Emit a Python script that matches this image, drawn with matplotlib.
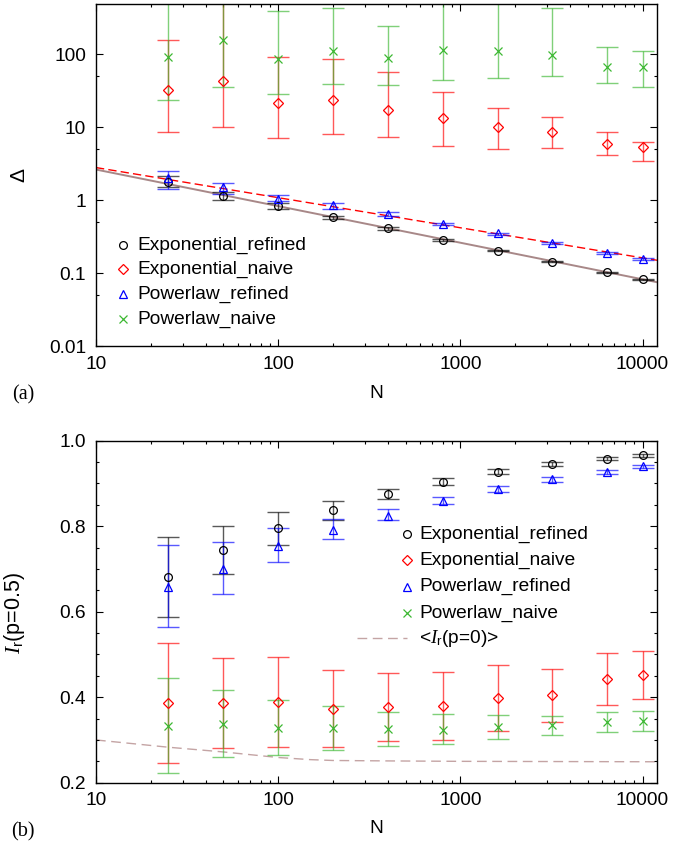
import matplotlib
matplotlib.use("Agg")
import matplotlib.pyplot as plt
import numpy as np
from matplotlib.ticker import FixedLocator, LogLocator, MultipleLocator, NullFormatter

plt.rcParams['font.family'] = ['Liberation Sans', 'DejaVu Sans']
plt.rcParams['font.size'] = 13.8
plt.rcParams['mathtext.fontset'] = 'custom'
plt.rcParams['mathtext.it'] = 'Liberation Serif:italic'
plt.rcParams['mathtext.rm'] = 'Liberation Sans'
plt.rcParams['axes.linewidth'] = 1.0

N = [25, 50, 100, 200, 400, 800, 1600, 3200, 6400, 10000]

# (a) Delta vs N
exp_ref = [1.80, 1.13, 0.82, 0.58, 0.41, 0.288, 0.204, 0.144, 0.102, 0.082]
exp_ref_lo = [1.50, 1.00, 0.76, 0.555, 0.395, 0.278, 0.198, 0.140, 0.099, 0.080]
exp_ref_hi = [2.15, 1.30, 0.90, 0.61, 0.425, 0.298, 0.210, 0.148, 0.105, 0.084]

exp_naive = [32.5, 43, 21.4, 23.5, 17.3, 13.5, 10.0, 8.6, 5.9, 5.4]
exp_naive_lo = [8.6, 10.0, 7.2, 8.0, 7.4, 5.6, 5.1, 5.2, 4.2, 3.4]
exp_naive_hi = [156, 700, 91, 85, 57, 30, 18.3, 13.8, 8.5, 6.3]

pow_ref = [2.0, 1.5, 1.04, 0.86, 0.65, 0.47, 0.35, 0.26, 0.19, 0.158]
pow_ref_lo = [1.42, 1.20, 0.97, 0.75, 0.61, 0.45, 0.335, 0.25, 0.183, 0.153]
pow_ref_hi = [2.55, 1.73, 1.17, 0.91, 0.68, 0.49, 0.36, 0.268, 0.196, 0.162]

pow_naive = [91, 158, 86, 112, 88, 116, 112, 97, 67, 67]
pow_naive_lo = [23.5, 36, 28.6, 39, 38, 45, 47, 50, 40, 36]
pow_naive_hi = [800, 800, 395, 435, 245, 800, 800, 425, 126, 112]

# power-law fits, given by their end points
fit_N = [10, 12000]
fit_exp = [2.63, 0.075]
fit_pow = [2.80, 0.150]

# (b) I_r(p=0.5) vs N
expb = [0.682, 0.745, 0.796, 0.837, 0.876, 0.904, 0.927, 0.945, 0.958, 0.966]
expb_lo = [0.587, 0.689, 0.757, 0.815, 0.864, 0.896, 0.921, 0.940, 0.954, 0.962]
expb_hi = [0.774, 0.800, 0.834, 0.858, 0.886, 0.913, 0.933, 0.949, 0.962, 0.970]

expb_naive = [0.386, 0.386, 0.388, 0.372, 0.377, 0.379, 0.399, 0.404, 0.442, 0.451]
expb_naive_lo = [0.246, 0.281, 0.283, 0.283, 0.297, 0.301, 0.322, 0.341, 0.382, 0.395]
expb_naive_hi = [0.526, 0.492, 0.493, 0.463, 0.456, 0.458, 0.475, 0.467, 0.503, 0.508]

powb = [0.658, 0.699, 0.754, 0.791, 0.825, 0.860, 0.887, 0.910, 0.927, 0.940]
powb_lo = [0.565, 0.641, 0.716, 0.769, 0.814, 0.851, 0.881, 0.903, 0.922, 0.937]
powb_hi = [0.757, 0.763, 0.796, 0.816, 0.841, 0.869, 0.895, 0.914, 0.931, 0.943]

powb_naive = [0.333, 0.338, 0.329, 0.328, 0.326, 0.323, 0.331, 0.334, 0.342, 0.344]
powb_naive_lo = [0.222, 0.261, 0.264, 0.276, 0.285, 0.290, 0.302, 0.312, 0.319, 0.321]
powb_naive_hi = [0.444, 0.416, 0.393, 0.379, 0.365, 0.361, 0.358, 0.356, 0.365, 0.367]

N_p0 = [10, 25, 50, 100, 150, 200, 400, 1000, 12000]
I_p0 = [0.300, 0.283, 0.272, 0.259, 0.254, 0.252, 0.251, 0.250, 0.249]

labels = ['Exponential_refined', 'Exponential_naive', 'Powerlaw_refined', 'Powerlaw_naive']
colors = ['black', '#ff0000', '#0000ff', '#3cb832']
markers = ['o', 'D', '^', 'x']
msizes = [5.6, 5.0, 6.2, 5.2]


def draw_series(ax, y, lo, hi, k):
    y = np.asarray(y)
    err = [y - np.asarray(lo), np.asarray(hi) - y]
    ax.errorbar(N, y, yerr=err, fmt='none', ecolor=colors[k], elinewidth=1.0,
                capsize=8, capthick=1.0, alpha=0.65, zorder=2)
    ax.plot(N, y, linestyle='none', marker=markers[k], ms=msizes[k],
            mfc='none', mec=colors[k], mew=0.9, zorder=3)


def style_axes(ax):
    ax.set_xscale('log')
    ax.set_xlim(10, 12000)
    ax.xaxis.set_major_locator(FixedLocator([10, 100, 1000, 10000]))
    ax.xaxis.set_major_formatter(plt.FuncFormatter(lambda v, p: '%d' % v))
    ax.xaxis.set_minor_locator(LogLocator(base=10, subs=np.arange(2, 10)))
    ax.xaxis.set_minor_formatter(NullFormatter())
    ax.tick_params(which='both', direction='in', top=True, right=True, width=0.8)
    ax.tick_params(which='major', length=5, pad=7)
    ax.tick_params(which='minor', length=2.5)


def legend_rows(ax, xm, xt, ys):
    for k, yy in enumerate(ys):
        ax.plot([xm], [yy], transform=ax.transAxes, linestyle='none',
                marker=markers[k], ms=msizes[k], mfc='none', mec=colors[k],
                mew=0.9, clip_on=False)
        ax.text(xt, yy, labels[k], transform=ax.transAxes, va='center', ha='left')


fig = plt.figure(figsize=(6.73, 8.46), dpi=100)
ax1 = fig.add_axes([0.1426, 0.591, 0.8336, 0.4043])
ax2 = fig.add_axes([0.1426, 0.0748, 0.8336, 0.4043])

# panel (a)
ax1.plot(fit_N, fit_exp, color='#a88888', lw=1.4, zorder=1)
ax1.plot(fit_N, fit_pow, color='#ff0000', lw=1.0, dashes=(6, 3), zorder=1)
draw_series(ax1, exp_ref, exp_ref_lo, exp_ref_hi, 0)
draw_series(ax1, exp_naive, exp_naive_lo, exp_naive_hi, 1)
draw_series(ax1, pow_ref, pow_ref_lo, pow_ref_hi, 2)
draw_series(ax1, pow_naive, pow_naive_lo, pow_naive_hi, 3)
style_axes(ax1)
ax1.set_yscale('log')
ax1.set_ylim(0.01, 490)
ax1.yaxis.set_major_locator(FixedLocator([0.01, 0.1, 1, 10, 100]))
ax1.yaxis.set_major_formatter(plt.FuncFormatter(lambda v, p: ('%g' % v)))
ax1.yaxis.set_minor_locator(LogLocator(base=10, subs=[5]))
ax1.yaxis.set_minor_formatter(NullFormatter())
ax1.set_ylabel('Δ', fontsize=15)
ax1.yaxis.set_label_coords(-0.121, 0.5)
ax1.set_xlabel('N')
ax1.xaxis.set_label_coords(0.5, -0.115)
legend_rows(ax1, 0.048, 0.0743, [0.295, 0.224, 0.151, 0.078])

# panel (b)
ax2.plot(N_p0, I_p0, color='#c4a4a4', lw=1.0, dashes=(7, 4), zorder=1)
draw_series(ax2, expb, expb_lo, expb_hi, 0)
draw_series(ax2, expb_naive, expb_naive_lo, expb_naive_hi, 1)
draw_series(ax2, powb, powb_lo, powb_hi, 2)
draw_series(ax2, powb_naive, powb_naive_lo, powb_naive_hi, 3)
style_axes(ax2)
ax2.set_ylim(0.2, 1.0)
ax2.yaxis.set_major_locator(MultipleLocator(0.2))
ax2.yaxis.set_major_formatter(plt.FuncFormatter(lambda v, p: '%.1f' % v))
ax2.yaxis.set_minor_locator(MultipleLocator(0.05))
ax2.set_ylabel(r'$I_{\mathrm{r}}$(p=0.5)', fontsize=15.5)
ax2.yaxis.set_label_coords(-0.1235, 0.496)
ax2.set_xlabel('N')
ax2.xaxis.set_label_coords(0.5, -0.11)
legend_rows(ax2, 0.554, 0.576, [0.726, 0.650, 0.573, 0.495])
ax2.plot([0.4647, 0.554], [0.422, 0.422], transform=ax2.transAxes,
         color='#c4a4a4', lw=1.0, dashes=(7, 4), clip_on=False)
ax2.text(0.576, 0.422, r'<$I_{\mathrm{r}}$(p=0)>', transform=ax2.transAxes,
         va='center', ha='left')

fig.text(0.034, 0.533, '(a)', family='Liberation Serif', fontsize=14.5,
         ha='center', va='center')
fig.text(0.034, 0.017, '(b)', family='Liberation Serif', fontsize=14.5,
         ha='center', va='center')

fig.savefig('out.png', dpi=100, facecolor='white')
